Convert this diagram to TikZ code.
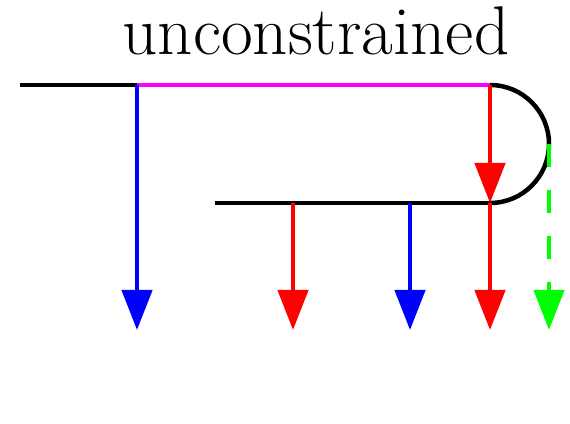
\documentclass[tikz,border=0pt]{standalone}
\usetikzlibrary{arrows.meta}
\definecolor{pmag}{RGB}{255,0,255}
\definecolor{pblue}{RGB}{0,0,255}
\definecolor{pred}{RGB}{255,0,0}
\definecolor{pgreen}{RGB}{0,255,0}
\tikzset{
  force/.style={line width=4.5pt, -{Triangle[width=30pt,length=40pt]}},
  beam/.style={line width=4.5pt}
}
\begin{document}
\begin{tikzpicture}[x=1pt, y=1pt]
  \useasboundingbox (0,0) rectangle (570,423);
  \coordinate (L) at (20,338);
  \coordinate (T1) at (137,338);
  \coordinate (T2) at (490,338);
  \coordinate (B0) at (215,220);
  \coordinate (B1) at (293,220);
  \coordinate (B2) at (410,220);
  \coordinate (B3) at (490,220);
  \coordinate (R) at (549,279);
  \coordinate (P1) at (137,93);
  \coordinate (P2) at (293,93);
  \coordinate (P3) at (410,93);
  \coordinate (P4) at (490,93);
  \coordinate (P5) at (549,93);

  \node[font=\fontsize{69}{75}\selectfont, anchor=base] (title) at (316,368) {unconstrained};

  % beam
  \draw[beam] (L)--(T1);
  \draw[beam, pmag] (T1)--(T2);
  \draw[beam] (T2) arc (90:-90:59);
  \draw[beam] (B0)--(B3);

  % forces
  \draw[force, pblue] (T1)--(P1);
  \draw[force, pred] (T2)--(B3);
  \draw[force, pred] (B3)--(P4);
  \draw[force, pred] (B1)--(P2);
  \draw[force, pblue] (B2)--(P3);
  \draw[force, pgreen, dash pattern=on 23pt off 23pt] (R)--(P5);
\end{tikzpicture}
\end{document}
